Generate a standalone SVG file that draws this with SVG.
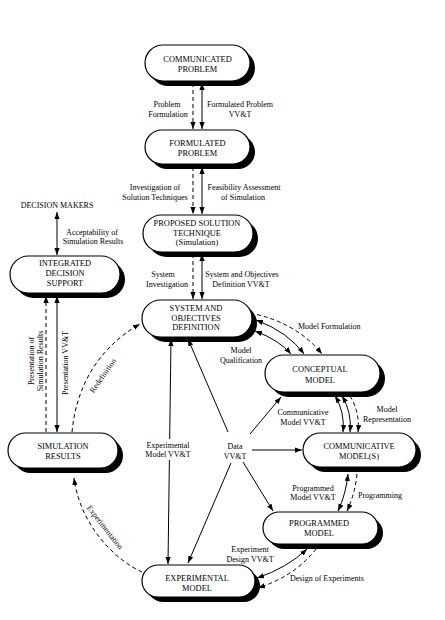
<svg xmlns="http://www.w3.org/2000/svg" width="445" height="620" viewBox="0 0 445 620">
<style>
  .bg { fill: #ffffff; }
  .pill { fill: #ffffff; stroke: #000000; stroke-width: 1.2; }
  .shadow { fill: #000000; }
  .nt { font-family: "Liberation Serif", "Times New Roman", serif; font-size: 8.4px; fill: #000; text-anchor: middle; }
  .lb { font-family: "Liberation Serif", "Times New Roman", serif; font-size: 8px; fill: #000; }
  .mid { text-anchor: middle; }
  .sol { fill: none; stroke: #000; stroke-width: 1; marker-end: url(#ah); }
  .sol2 { fill: none; stroke: #000; stroke-width: 1; marker-end: url(#ah); marker-start: url(#ah); }
  .dsh { fill: none; stroke: #000; stroke-width: 1; stroke-dasharray: 4 3; marker-end: url(#ah); }
</style>
<defs>
  <marker id="ah" viewBox="0 0 8 6" refX="8" refY="3" markerWidth="7" markerHeight="5.5" markerUnits="userSpaceOnUse" orient="auto-start-reverse">
    <path d="M0,0 L8,3 L0,6 z" fill="#000"/>
  </marker>
</defs>
<rect class="bg" x="0" y="0" width="445" height="620"/>

<g id="connectors">
  <!-- vertical spine -->
  <line class="dsh" x1="193" y1="83" x2="193" y2="129"/>
  <line class="sol2" x1="202" y1="83" x2="202" y2="129"/>
  <line class="dsh" x1="193" y1="167" x2="193" y2="214"/>
  <line class="sol2" x1="202" y1="167" x2="202" y2="214"/>
  <line class="dsh" x1="193" y1="254" x2="193" y2="299"/>
  <line class="sol2" x1="202" y1="254" x2="202" y2="299"/>
  <!-- decision makers -->
  <line class="sol2" x1="57" y1="212" x2="57" y2="255"/>
  <!-- IDS <-> simulation results -->
  <line class="dsh" x1="46" y1="432" x2="46" y2="296"/>
  <line class="sol2" x1="57" y1="296" x2="57" y2="432"/>
  <!-- redefinition -->
  <path class="dsh" d="M72,432 C76,390 95,350 140,324"/>
  <!-- experimentation -->
  <path class="dsh" d="M142,572 C115,560 80,525 74,478"/>
  <!-- system <-> conceptual -->
  <path class="dsh" d="M250,313 Q296,322 322,354"/>
  <path class="sol2" d="M256,320 Q288,332 304,354"/>
  <path class="sol2" d="M255,331 Q279,340 291,354"/>
  <!-- conceptual <-> communicative -->
  <path class="sol2" d="M335,396 Q345,412 343,432"/>
  <path class="sol2" d="M342,396 Q352,412 350,432"/>
  <path class="dsh" d="M350,396 Q360,412 358,432"/>
  <!-- communicative <-> programmed -->
  <path class="sol2" d="M348,474 Q346,494 338,511"/>
  <path class="dsh" d="M357,474 Q355,494 347,511"/>
  <!-- programmed <-> experimental -->
  <path class="sol2" d="M307,549 Q287,568 257,578"/>
  <path class="dsh" d="M316,549 Q295,576 258,588"/>
  <!-- experimental model VV&T -->
  <line class="sol2" x1="171" y1="339" x2="168" y2="564"/>
  <rect x="146" y="439" width="46" height="21" fill="#fff"/>
  <!-- data VV&T -->
  <line class="sol" x1="228" y1="432" x2="188" y2="339"/>
  <line class="sol" x1="250" y1="434" x2="281" y2="397"/>
  <line class="sol" x1="252" y1="450" x2="302" y2="450"/>
  <line class="sol" x1="243" y1="462" x2="273" y2="511"/>
  <line class="sol" x1="231" y1="463" x2="188" y2="563"/>
</g>

<g id="labels">
  <text class="lb mid" x="167" y="107">Problem</text>
  <text class="lb mid" x="168" y="117">Formulation</text>
  <text class="lb mid" x="240" y="107">Formulated Problem</text>
  <text class="lb mid" x="240" y="117">VV&amp;T</text>
  <text class="lb mid" x="155" y="190">Investigation of</text>
  <text class="lb mid" x="155" y="200">Solution Techniques</text>
  <text class="lb mid" x="244" y="190">Feasibility Assessment</text>
  <text class="lb mid" x="243" y="200">of Simulation</text>
  <text class="lb mid" x="163" y="277">System</text>
  <text class="lb mid" x="167" y="287">Investigation</text>
  <text class="lb mid" x="242" y="277">System and Objectives</text>
  <text class="lb mid" x="241" y="287">Definition VV&amp;T</text>
  <text class="lb mid" x="57" y="208">DECISION MAKERS</text>
  <text class="lb mid" x="92" y="235">Acceptability of</text>
  <text class="lb mid" x="93" y="244">Simulation Results</text>
  <text class="lb mid" transform="translate(34,361) rotate(-90)">Presentation of</text>
  <text class="lb mid" transform="translate(43,361) rotate(-90)">Simulation Results</text>
  <text class="lb mid" transform="translate(68,363) rotate(-90)">Presentation VV&amp;T</text>
  <text class="lb mid" transform="translate(105,377) rotate(-55)">Redefinition</text>
  <text class="lb mid" transform="translate(103,529) rotate(52)">Experimentation</text>
  <text class="lb" x="298" y="329">Model Formulation</text>
  <text class="lb mid" x="241" y="353">Model</text>
  <text class="lb mid" x="241" y="363">Qualification</text>
  <text class="lb mid" x="303" y="415">Communicative</text>
  <text class="lb mid" x="303" y="425">Model VV&amp;T</text>
  <text class="lb mid" x="387" y="412">Model</text>
  <text class="lb mid" x="387" y="422">Representation</text>
  <text class="lb mid" x="235" y="449">Data</text>
  <text class="lb mid" x="235" y="459">VV&amp;T</text>
  <text class="lb mid" x="168" y="448">Experimental</text>
  <text class="lb mid" x="168" y="457">Model VV&amp;T</text>
  <text class="lb mid" x="313" y="491">Programmed</text>
  <text class="lb mid" x="313" y="500">Model VV&amp;T</text>
  <text class="lb" x="358" y="498">Programming</text>
  <text class="lb mid" x="250" y="552">Experiment</text>
  <text class="lb mid" x="250" y="562">Design VV&amp;T</text>
  <text class="lb" x="290" y="581">Design of Experiments</text>
</g>

<g id="n-communicated">
  <rect class="shadow" x="150" y="50" width="105" height="36" rx="18"/>
  <rect class="pill" x="145" y="45" width="105" height="36" rx="18"/>
  <text class="nt" x="197.5" y="62">COMMUNICATED</text>
  <text class="nt" x="197.5" y="72">PROBLEM</text>
</g>
<g id="n-formulated">
  <rect class="shadow" x="150" y="135" width="105" height="34" rx="17"/>
  <rect class="pill" x="145" y="130" width="105" height="34" rx="17"/>
  <text class="nt" x="197.5" y="146">FORMULATED</text>
  <text class="nt" x="197.5" y="156">PROBLEM</text>
</g>
<g id="n-proposed">
  <rect class="shadow" x="148" y="220" width="110" height="37" rx="18.5"/>
  <rect class="pill" x="143" y="215" width="110" height="37" rx="18.5"/>
  <text class="nt" x="197" y="226">PROPOSED SOLUTION</text>
  <text class="nt" x="197" y="236">TECHNIQUE</text>
  <text class="nt" x="197" y="245">(Simulation)</text>
</g>
<g id="n-system">
  <rect class="shadow" x="147" y="305" width="110" height="37" rx="18.5"/>
  <rect class="pill" x="142" y="300" width="110" height="37" rx="18.5"/>
  <text class="nt" x="196" y="311">SYSTEM AND</text>
  <text class="nt" x="196" y="321">OBJECTIVES</text>
  <text class="nt" x="196" y="330">DEFINITION</text>
</g>
<g id="n-ids">
  <rect class="shadow" x="15" y="261" width="110" height="37" rx="18.5"/>
  <rect class="pill" x="10" y="256" width="110" height="37" rx="18.5"/>
  <text class="nt" x="65" y="266">INTEGRATED</text>
  <text class="nt" x="65" y="276">DECISION</text>
  <text class="nt" x="65" y="286">SUPPORT</text>
</g>
<g id="n-simres">
  <rect class="shadow" x="13" y="438" width="110" height="35" rx="17.5"/>
  <rect class="pill" x="8" y="433" width="110" height="35" rx="17.5"/>
  <text class="nt" x="63" y="449">SIMULATION</text>
  <text class="nt" x="63" y="459">RESULTS</text>
</g>
<g id="n-conceptual">
  <rect class="shadow" x="270" y="360" width="115" height="37" rx="18.5"/>
  <rect class="pill" x="265" y="355" width="115" height="37" rx="18.5"/>
  <text class="nt" x="320" y="372">CONCEPTUAL</text>
  <text class="nt" x="320" y="383">MODEL</text>
</g>
<g id="n-communicative">
  <rect class="shadow" x="308" y="438" width="113" height="34" rx="17"/>
  <rect class="pill" x="303" y="433" width="113" height="34" rx="17"/>
  <text class="nt" x="359" y="449">COMMUNICATIVE</text>
  <text class="nt" x="359" y="459">MODEL(S)</text>
</g>
<g id="n-programmed">
  <rect class="shadow" x="268" y="517" width="115" height="32" rx="16"/>
  <rect class="pill" x="263" y="512" width="115" height="32" rx="16"/>
  <text class="nt" x="319" y="526">PROGRAMMED</text>
  <text class="nt" x="319" y="536">MODEL</text>
</g>
<g id="n-experimental">
  <rect class="shadow" x="147" y="570" width="113" height="32" rx="16"/>
  <rect class="pill" x="142" y="565" width="113" height="32" rx="16"/>
  <text class="nt" x="197" y="581">EXPERIMENTAL</text>
  <text class="nt" x="197" y="591">MODEL</text>
</g>
</svg>
